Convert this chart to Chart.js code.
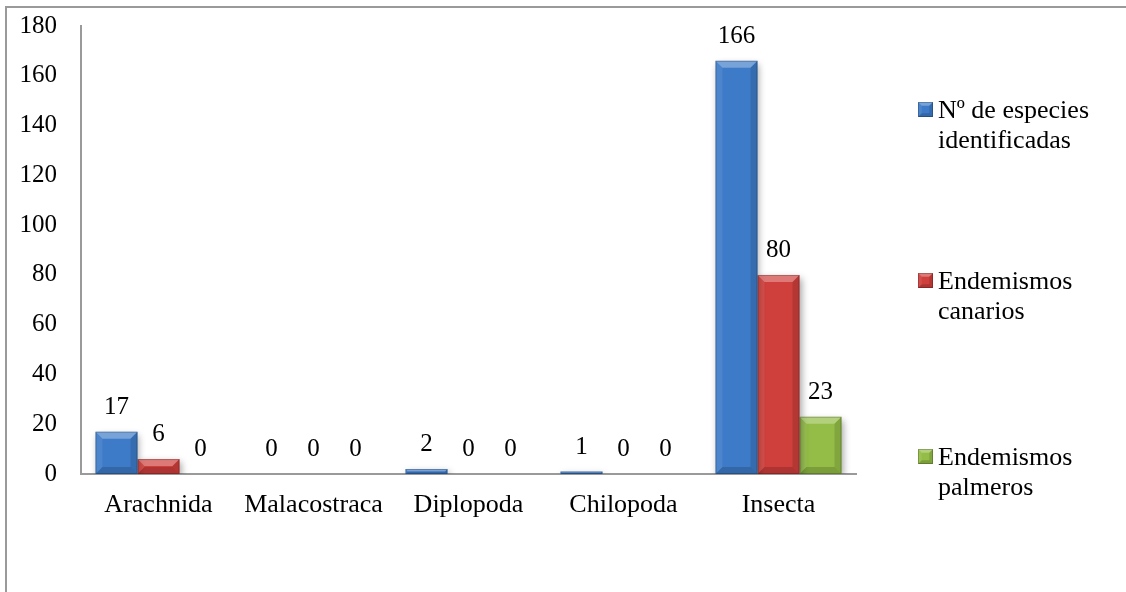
<!DOCTYPE html>
<html>
<head>
<meta charset="utf-8">
<script src="https://cdn.jsdelivr.net/npm/chart.js@4.4.1/dist/chart.umd.min.js"></script>
<style>
    html, body { margin: 0; padding: 0; background: #fff; overflow: hidden; }
    #frame {
        position: absolute; left: 5px; top: 6px; width: 2000px; height: 2000px;
        border-top: 2px solid #9a9a9a; border-left: 2px solid #9a9a9a;
    }
    /* canvas shifted up so the plot top lands on y=25 */
    #wrap { position: absolute; left: 0; top: -13px; width: 1126px; height: 605px; }
</style>
</head>
<body>
<div id="frame"></div>
<div id="wrap"><canvas id="chart"></canvas></div>
<script>
const CATEGORIES = ["Arachnida", "Malacostraca", "Diplopoda", "Chilopoda", "Insecta"];
const IDENTIFICADAS = [17, 0, 2, 1, 166];
const CANARIOS = [6, 0, 0, 0, 80];
const PALMEROS = [0, 0, 0, 0, 23];
const SERIES_NAMES = [
    ["N\u00ba de especies", "identificadas"],
    ["Endemismos", "canarios"],
    ["Endemismos", "palmeros"],
];
const SERIES_COLORS = ["#3d7bc8", "#cf3f3c", "#93bd46"];
const Y_MIN = 0, Y_MAX = 180, Y_STEP = 20;

const FONT = "'Liberation Serif', 'Times New Roman', serif";
const SHIFT = 13;

function bevel(ctx, left, top, right, bottom, size) {
    const h = bottom - top, w = right - left;
    if (h <= 0 || w <= 0) return;
    const b = Math.min(size, h / 2, w / 4);
    const poly = (pts, fill) => {
        ctx.beginPath();
        ctx.moveTo(pts[0][0], pts[0][1]);
        pts.slice(1).forEach(p => ctx.lineTo(p[0], p[1]));
        ctx.closePath();
        ctx.fillStyle = fill;
        ctx.fill();
    };
    poly([[left, top], [right, top], [right - b, top + b], [left + b, top + b]], "rgba(255,255,255,0.30)");
    poly([[left, top], [left + b, top + b], [left + b, bottom - b], [left, bottom]], "rgba(255,255,255,0.08)");
    poly([[right, top], [right, bottom], [right - b, bottom - b], [right - b, top + b]], "rgba(0,0,0,0.12)");
    poly([[left, bottom], [left + b, bottom - b], [right - b, bottom - b], [right, bottom]], "rgba(0,0,0,0.16)");
    ctx.strokeStyle = "rgba(0,0,0,0.22)";
    ctx.lineWidth = 1;
    ctx.strokeRect(left + 0.5, top + 0.5, w - 1, h - 1);
}

const shadowPlugin = {
    id: "shadow",
    beforeDatasetsDraw(chart) {
        const ctx = chart.ctx;
        ctx.save();
        ctx.shadowColor = "rgba(0,0,0,0.35)";
        ctx.shadowBlur = 7;
        ctx.shadowOffsetX = 2;
        ctx.shadowOffsetY = 3;
    },
    afterDatasetsDraw(chart) {
        chart.ctx.restore();
    },
};

const decorPlugin = {
    id: "decor",
    afterDraw(chart) {
        const ctx = chart.ctx;
        ctx.save();
        // bevels and value labels
        chart.data.datasets.forEach((ds, i) => {
            const meta = chart.getDatasetMeta(i);
            meta.data.forEach((bar, j) => {
                const p = bar.getProps(["x", "y", "base", "width"], true);
                const left = p.x - p.width / 2, right = p.x + p.width / 2;
                const top = Math.min(p.y, p.base), bottom = Math.max(p.y, p.base);
                bevel(ctx, left, top, right, bottom, 7);
                ctx.fillStyle = "#000";
                ctx.font = "25px " + FONT;
                ctx.textAlign = "center";
                ctx.textBaseline = "alphabetic";
                ctx.fillText(String(ds.data[j]), p.x, top - 18);
            });
        });
        // legend
        const baselines = [118, 289, 465].map(v => v + SHIFT);
        ctx.font = "26px " + FONT;
        ctx.textAlign = "left";
        ctx.textBaseline = "alphabetic";
        chart.data.datasets.forEach((ds, i) => {
            const bl = baselines[i];
            ctx.fillStyle = ds.backgroundColor;
            ctx.fillRect(918, bl - 16, 15, 15);
            bevel(ctx, 918, bl - 16, 933, bl - 1, 4);
            ctx.fillStyle = "#000";
            ds.label.forEach((line, k) => ctx.fillText(line, 938, bl + k * 29.5));
        });
        ctx.restore();
    },
};

new Chart(document.getElementById("chart"), {
    type: "bar",
    data: {
        labels: CATEGORIES,
        datasets: [IDENTIFICADAS, CANARIOS, PALMEROS].map((values, i) => ({
            label: SERIES_NAMES[i],
            data: values,
            backgroundColor: SERIES_COLORS[i],
            borderWidth: 0,
            categoryPercentage: 0.813,
            barPercentage: 1.0,
        })),
    },
    options: {
        responsive: true,
        maintainAspectRatio: false,
        animation: false,
        events: [],
        layout: { padding: { left: 0, top: 12, right: 270, bottom: 0 } },
        plugins: {
            legend: { display: false },
            tooltip: { enabled: false },
        },
        scales: {
            x: {
                grid: { display: false, drawTicks: false },
                border: { display: true, color: "#9a9a9a", width: 2 },
                ticks: { color: "#000", font: { family: FONT, size: 26 }, padding: 16, maxRotation: 0 },
                afterFit: scale => { scale.height = 118; },
            },
            y: {
                min: Y_MIN,
                max: Y_MAX,
                grid: { display: false, drawTicks: false },
                border: { display: true, color: "#9a9a9a", width: 2 },
                ticks: { stepSize: Y_STEP, color: "#000", font: { family: FONT, size: 25 }, padding: 24 },
                afterFit: scale => { scale.width = 81; },
            },
        },
    },
    plugins: [shadowPlugin, decorPlugin],
});
</script>
</body>
</html>
